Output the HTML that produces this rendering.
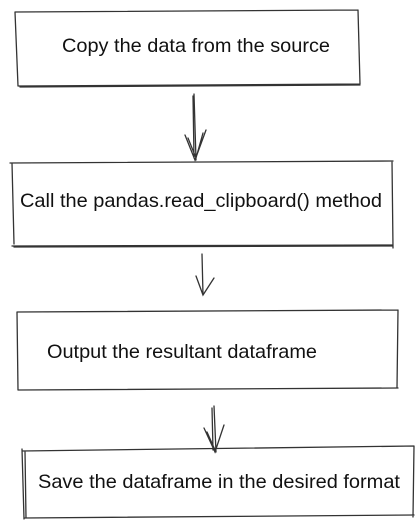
<!DOCTYPE html>
<html><head><style>
body{margin:0;background:#fff;width:420px;height:528px;overflow:hidden}
svg{display:block}
text{font-family:"Liberation Sans",sans-serif;font-size:19.5px;fill:#111}
path{fill:none;stroke:#333;stroke-width:1.3;stroke-linecap:round}
</style></head><body>
<svg width="420" height="528" viewBox="0 0 420 528">
<!-- box1 -->
<path d="M15 12 L358 10 M15 12 L18 86 M18 86 L360 84 M358 10 L360 84 M20 87 L360 85"/>
<text x="62" y="52" textLength="268" lengthAdjust="spacingAndGlyphs">Copy the data from the source</text>
<!-- arrow1 -->
<path d="M194 94 L196 160 M193 96 L194 158 M185 135 L195 160 L206 130 M188 138 L196 158 L203 133"/>
<!-- box2 -->
<path d="M10 163 L393 161 M12 163 L14 244 M12 246 L392 245 M392 161 L393 248 M14 247 L392 246"/>
<text x="20" y="207" textLength="362" lengthAdjust="spacingAndGlyphs">Call the pandas.read_clipboard() method</text>
<!-- arrow2 -->
<path d="M202 254 L203 295 M196 276 L203 295 L214 278"/>
<!-- box3 -->
<path d="M17 312 L398 310 M17 312 L18 390 M18 390 L398 388 M398 310 L397 388"/>
<text x="47" y="358" textLength="270" lengthAdjust="spacingAndGlyphs">Output the resultant dataframe</text>
<!-- arrow3 -->
<path d="M214 406 L216 452 M212 408 L213 450 M204 428 L215 452 L224 425 M207 432 L215 450"/>
<!-- box4 -->
<path d="M22 451 L414 446 M22 449 L24 519 M25 451 L26 518 M24 518 L414 515 M414 446 L413 517"/>
<text x="38" y="488" textLength="362" lengthAdjust="spacingAndGlyphs">Save the dataframe in the desired format</text>
</svg>
</body></html>
